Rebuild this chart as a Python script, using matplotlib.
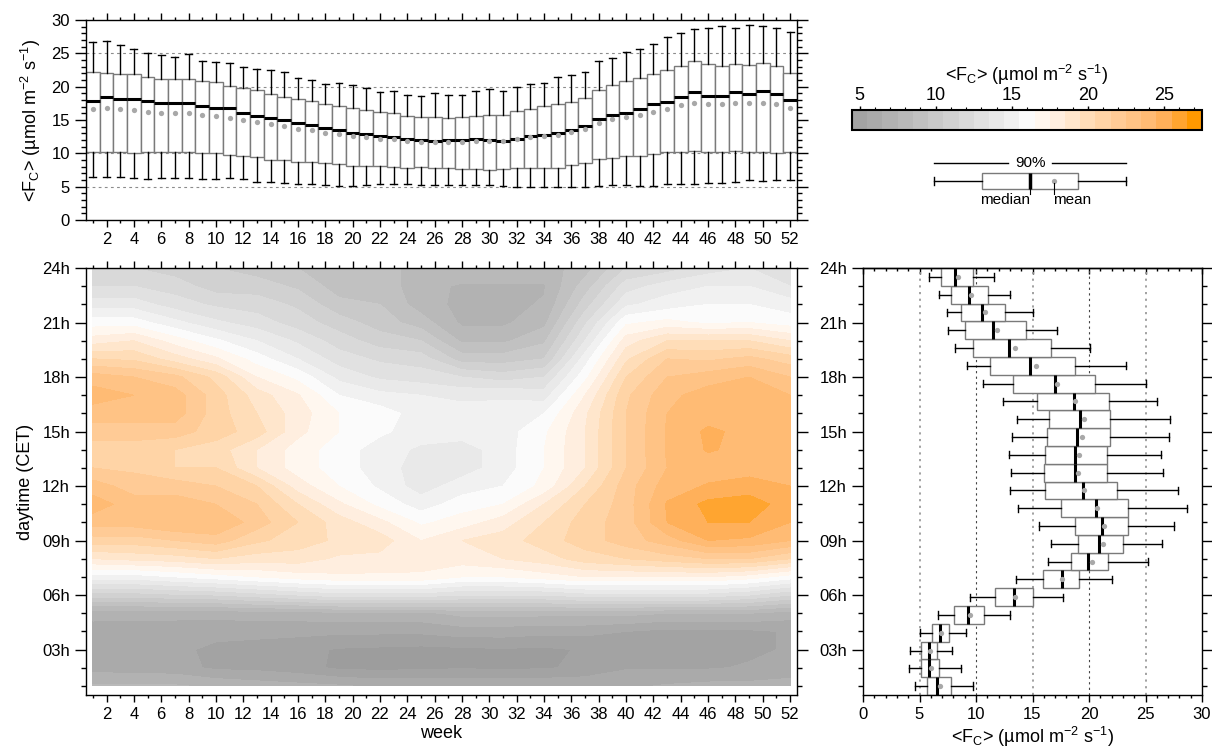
import numpy as np
import matplotlib
matplotlib.use('Agg')
import matplotlib.pyplot as plt
from matplotlib.colors import ListedColormap, BoundaryNorm
from matplotlib.cm import ScalarMappable
from matplotlib.ticker import FixedLocator, MultipleLocator
from matplotlib.patches import Rectangle

plt.rcParams['font.family'] = ['Liberation Sans', 'DejaVu Sans']
plt.rcParams['mathtext.fontset'] = 'custom'
plt.rcParams['mathtext.rm'] = 'Liberation Sans'
plt.rcParams['mathtext.it'] = 'Liberation Sans:italic'
plt.rcParams['mathtext.bf'] = 'Liberation Sans:bold'

# ---------------- weekly statistics (top panel) ----------------
weeks = list(range(1, 53))
week_whi = [26.65, 26.9, 26.2, 25.7, 25.0, 24.7, 24.5, 24.85, 23.9, 23.75, 23.5, 22.9, 22.6,
            22.45, 22.15, 21.25, 20.95, 20.35, 20.5, 20.2, 19.75, 19.15, 19.3, 18.8, 18.65, 19.0,
            18.8, 18.8, 19.4, 19.6, 19.4, 20.0, 20.35, 20.6, 21.4, 21.8, 22.15, 23.9, 24.35, 25.25,
            25.6, 26.35, 27.4, 28.0, 28.6, 28.75, 29.05, 28.75, 29.2, 29.05, 28.75, 28.15]
week_q3 = [22.15, 22.0, 21.9, 21.9, 21.5, 21.2, 21.1, 21.1, 20.9, 20.75, 20.15, 19.8, 19.5,
           18.9, 18.5, 18.2, 17.9, 17.4, 17.15, 16.85, 16.5, 16.25, 16.0, 15.65, 15.4, 15.4,
           15.25, 15.4, 15.65, 15.8, 15.8, 16.3, 16.7, 17.1, 17.45, 17.75, 18.35, 19.5, 20.25, 20.9,
           21.25, 21.9, 22.45, 23.05, 23.8, 23.4, 23.05, 23.4, 23.2, 23.5, 23.05, 22.05]
week_med = [17.9, 18.5, 18.2, 18.2, 17.9, 17.6, 17.6, 17.6, 17.15, 16.85, 16.85, 16.1, 15.65,
            15.35, 15.0, 14.6, 14.25, 13.85, 13.5, 13.1, 12.9, 12.6, 12.5, 12.2, 12.0, 11.85,
            12.0, 12.0, 12.15, 12.0, 11.85, 12.2, 12.6, 12.75, 13.1, 13.5, 14.1, 15.1, 15.8, 16.1,
            16.7, 17.45, 17.75, 18.5, 19.15, 18.65, 18.65, 19.15, 18.95, 19.3, 18.95, 18.05]
week_mean = [16.65, 16.8, 16.65, 16.5, 16.25, 16.0, 16.1, 16.1, 15.8, 15.65, 15.35, 15.0, 14.65,
             14.35, 14.1, 13.7, 13.5, 13.1, 12.9, 12.65, 12.5, 12.2, 12.15, 11.9, 11.7, 11.75,
             11.75, 11.75, 11.9, 11.9, 11.9, 12.15, 12.4, 12.6, 12.8, 13.25, 13.65, 14.5, 15.1, 15.45,
             15.7, 16.2, 16.7, 17.2, 17.55, 17.4, 17.35, 17.5, 17.5, 17.55, 17.35, 16.75]
week_q1 = [10.15, 10.15, 10.15, 10.1, 10.15, 10.15, 10.25, 10.15, 10.0, 10.0, 9.7, 9.6, 9.5,
           8.95, 8.95, 8.75, 8.65, 8.5, 8.4, 8.15, 8.05, 8.05, 7.9, 7.8, 7.9, 7.75,
           7.75, 7.65, 7.65, 7.5, 7.65, 7.75, 7.75, 7.75, 7.85, 8.25, 8.5, 9.1, 9.25, 9.6,
           9.6, 9.9, 10.15, 10.25, 10.35, 10.15, 10.15, 10.35, 10.25, 10.15, 10.05, 10.15]
week_wlo = [6.4, 6.4, 6.4, 6.25, 6.1, 6.25, 6.25, 6.25, 6.1, 6.1, 6.25, 6.1, 5.65,
            5.65, 5.5, 5.35, 5.35, 5.2, 5.05, 5.05, 5.2, 5.35, 5.35, 5.35, 5.25, 5.25,
            5.25, 5.25, 5.25, 5.25, 5.1, 4.9, 5.0, 5.0, 5.0, 5.0, 5.0, 5.1, 5.25, 5.25,
            5.1, 5.1, 5.4, 5.4, 5.4, 5.5, 5.5, 5.65, 6.0, 5.9, 6.0, 6.0]

# ---------------- hourly statistics (right panel), hours 1..24 ----------------
hours = list(range(1, 25))
hour_wlo = [4.63, 4.07, 4.16, 5.04, 6.67, 9.44, 13.5, 16.4, 16.64, 15.6, 13.75, 13.0,
            13.07, 12.95, 13.2, 13.6, 12.42, 10.65, 9.23, 8.17, 7.55, 7.46, 6.76, 5.87]
hour_q1 = [5.69, 5.16, 5.16, 6.08, 8.02, 11.68, 15.96, 18.38, 19.06, 18.79, 17.49, 16.14,
           15.99, 16.14, 16.25, 16.49, 15.4, 13.24, 11.24, 9.76, 9.06, 8.70, 7.76, 6.87]
hour_med = [6.52, 5.84, 5.84, 6.81, 9.26, 13.33, 17.61, 19.88, 20.9, 21.12, 20.6, 19.44,
            18.73, 18.76, 18.9, 19.2, 18.67, 17.0, 14.78, 12.9, 11.47, 10.5, 9.38, 8.14]
hour_mean = [6.81, 6.02, 5.9, 6.93, 9.47, 13.45, 17.61, 20.24, 21.2, 21.3, 20.7, 19.59,
             19.03, 19.08, 19.4, 19.53, 18.76, 17.14, 15.28, 13.42, 11.86, 10.77, 9.53, 8.41]
hour_q3 = [7.76, 6.76, 6.58, 7.61, 10.68, 15.07, 19.14, 21.7, 23.0, 23.42, 23.48, 22.5,
           21.56, 21.6, 21.9, 21.86, 21.77, 20.56, 18.79, 16.67, 14.4, 12.6, 11.06, 9.76]
hour_whi = [9.76, 8.64, 7.85, 9.12, 12.98, 17.67, 22.0, 25.2, 26.43, 27.55, 28.7, 27.85,
            26.58, 26.34, 27.1, 27.2, 26.05, 25.0, 23.3, 20.1, 17.2, 15.07, 13.0, 11.59]

# ---------------- week x hour field (heat map), hours 1..24 ----------------
grid_weeks = [1, 4, 7, 10, 13, 16, 19, 22, 25, 28, 31, 34, 37, 40, 43, 46, 49, 52]
grid_hours = list(range(1, 25))
flux_wk01 = [7.6, 6.1, 6.0, 6.1, 6.8, 11.0, 15.0, 18.5, 21.0, 23.0, 24.0, 23.0,
             21.5, 21.0, 22.0, 23.0, 24.0, 23.0, 20.5, 18.0, 16.0, 14.0, 12.5, 12.0]
flux_wk04 = [7.6, 6.0, 6.1, 6.0, 6.8, 11.0, 15.0, 18.8, 21.0, 23.0, 23.0, 22.0,
             21.3, 21.0, 22.0, 23.0, 23.5, 22.5, 20.3, 18.5, 16.0, 14.0, 12.5, 11.5]
flux_wk07 = [7.6, 5.9, 5.8, 6.0, 6.8, 11.3, 15.5, 19.0, 21.5, 23.5, 23.0, 22.0,
             20.5, 20.5, 22.0, 23.0, 23.0, 21.8, 19.0, 17.0, 14.8, 13.0, 12.0, 11.0]
flux_wk10 = [7.3, 5.3, 5.2, 5.9, 6.8, 11.5, 16.0, 19.5, 22.0, 23.5, 22.5, 21.5,
             20.5, 20.0, 21.0, 21.0, 21.0, 20.2, 17.7, 15.7, 13.7, 12.3, 11.0, 10.5]
flux_wk13 = [7.0, 5.2, 5.1, 5.8, 7.0, 12.0, 16.5, 19.0, 20.7, 22.0, 21.5, 20.5,
             18.5, 18.5, 20.0, 19.5, 19.0, 17.5, 16.0, 14.5, 13.0, 12.0, 11.0, 10.0]
flux_wk16 = [6.8, 4.9, 4.8, 5.8, 7.0, 12.5, 17.0, 19.0, 20.0, 20.5, 19.5, 18.0,
             17.0, 17.0, 17.8, 18.0, 17.6, 16.2, 14.5, 13.3, 12.0, 11.3, 10.3, 9.5]
flux_wk19 = [6.6, 4.3, 4.4, 5.7, 7.2, 13.0, 17.3, 18.3, 19.3, 19.0, 17.7, 16.5,
             16.0, 16.0, 16.5, 16.5, 15.5, 14.2, 13.0, 12.0, 11.0, 9.8, 9.0, 9.0]
flux_wk22 = [6.3, 4.2, 4.3, 5.7, 7.2, 13.0, 17.3, 18.2, 19.0, 17.8, 16.2, 15.3,
             15.0, 15.0, 15.7, 16.0, 14.8, 13.3, 12.3, 11.0, 10.0, 9.5, 9.0, 9.0]
flux_wk25 = [6.3, 4.3, 4.2, 5.7, 7.2, 13.0, 17.3, 18.0, 17.5, 16.3, 15.0, 14.0,
             14.0, 14.3, 15.0, 15.0, 14.5, 13.0, 12.0, 10.5, 9.0, 8.0, 8.0, 8.0]
flux_wk28 = [6.3, 4.4, 4.3, 6.0, 7.8, 12.5, 16.5, 18.0, 18.5, 17.0, 16.0, 15.0,
             14.0, 14.0, 15.0, 15.0, 14.2, 12.5, 10.0, 8.3, 7.3, 7.2, 7.3, 8.5]
flux_wk31 = [6.3, 4.3, 4.4, 6.0, 7.8, 12.5, 16.5, 18.5, 19.0, 18.0, 16.5, 15.5,
             15.0, 15.0, 15.0, 15.0, 14.3, 12.0, 10.0, 8.3, 7.3, 7.2, 7.3, 8.5]
flux_wk34 = [6.3, 4.4, 4.3, 5.8, 7.8, 12.5, 17.0, 19.0, 20.0, 19.5, 18.5, 16.8,
             16.5, 16.5, 16.3, 15.5, 14.0, 12.5, 10.5, 9.3, 8.2, 7.6, 7.4, 8.0]
flux_wk37 = [6.3, 4.7, 4.6, 5.8, 7.8, 13.0, 17.5, 20.0, 21.0, 21.0, 20.5, 19.5,
             18.5, 18.5, 18.5, 18.3, 17.5, 16.2, 15.0, 13.5, 12.3, 11.0, 10.0, 9.0]
flux_wk40 = [6.3, 5.4, 5.3, 5.5, 7.8, 13.0, 17.5, 20.5, 22.0, 22.0, 22.0, 22.0,
             21.5, 21.5, 21.5, 21.5, 21.3, 20.5, 19.3, 18.0, 16.3, 14.3, 13.0, 11.5]
flux_wk43 = [6.6, 5.4, 5.3, 5.2, 7.5, 13.0, 17.5, 21.0, 23.0, 24.5, 24.6, 24.0,
             23.5, 23.6, 23.6, 23.5, 23.2, 22.5, 21.5, 19.5, 16.8, 15.0, 14.0, 12.0]
flux_wk46 = [6.8, 5.4, 5.3, 5.2, 7.5, 13.0, 17.5, 21.5, 24.5, 25.5, 25.8, 24.6,
             24.0, 24.6, 24.7, 24.0, 24.0, 23.0, 21.3, 19.5, 16.3, 15.5, 14.5, 13.0]
flux_wk49 = [6.8, 5.6, 5.3, 5.3, 7.5, 12.5, 17.0, 21.5, 24.3, 25.5, 26.0, 25.0,
             24.0, 24.2, 24.2, 24.2, 24.2, 23.5, 21.8, 19.5, 16.5, 15.5, 14.5, 13.5]
flux_wk52 = [7.0, 5.8, 5.6, 5.6, 7.0, 11.5, 16.0, 20.5, 23.5, 24.5, 25.0, 24.5,
             23.5, 24.0, 24.0, 24.0, 23.5, 22.5, 21.0, 18.5, 16.0, 15.0, 13.5, 12.5]

# colour scale
levels = np.arange(4.5, 28.0, 1.0)
level_colors = ['#a3a3a3', '#aaaaaa', '#b2b2b2', '#b9b9b9', '#c1c1c1', '#c9c9c9',
                '#d1d1d1', '#d9d9d9', '#e1e1e1', '#e9e9e9', '#f1f1f1', '#fbfbfb',
                '#fff7ef', '#ffeedf', '#ffe6cc', '#ffddb8', '#ffd4a6', '#ffcb96',
                '#ffc385', '#ffbb74', '#ffb05a', '#ffa530', '#ff9900']
cbar_ticks = [5, 10, 15, 20, 25]

hour_ticks = [3, 6, 9, 12, 15, 18, 21, 24]
hour_labels = ['03h', '06h', '09h', '12h', '15h', '18h', '21h', '24h']

flux_label = '<F$_\\mathregular{C}$> (µmol m$^\\mathregular{-2}$ s$^\\mathregular{-1}$)'

# ---------------- figure ----------------
W, H = 1212, 748
fig = plt.figure(figsize=(W / 100, H / 100), dpi=100)


def pax(x0, y0, x1, y1):
    return fig.add_axes([x0 / W, 1 - y1 / H, (x1 - x0) / W, (y1 - y0) / H])


ax_top = pax(86, 20, 797, 220)
ax_hm = pax(86, 268, 797, 695)
ax_r = pax(863, 268, 1202, 695)
cax = pax(852, 110, 1202, 130)
ax_leg = pax(852, 150, 1202, 215)

FS = 12
box_edge = '#7a7a7a'
mean_col = '#a8a8a8'


def tick_style(ax, xmaj=5, xmin=2.5, ymaj=8, ymin=3.5):
    for s in ax.spines.values():
        s.set_linewidth(1.0)
    ax.tick_params(axis='x', which='major', length=xmaj, width=1, direction='out', labelsize=FS)
    ax.tick_params(axis='x', which='minor', length=xmin, width=1, direction='out')
    ax.tick_params(axis='y', which='major', length=ymaj, width=1, direction='out', labelsize=FS)
    ax.tick_params(axis='y', which='minor', length=ymin, width=1, direction='out')


# ---- top panel: weekly boxes ----
stats_top = [dict(med=m, q1=a, q3=b, whislo=lo, whishi=hi, mean=mn, fliers=[])
             for m, a, b, lo, hi, mn in zip(week_med, week_q1, week_q3, week_wlo, week_whi, week_mean)]
for g in [5, 10, 15, 20, 25]:
    ax_top.axhline(g, color='#8c8c8c', lw=0.8, ls=(0, (2.5, 3)), zorder=0.5)
ax_top.bxp(stats_top, positions=weeks, widths=1.0, capwidths=0.5, showmeans=True,
           patch_artist=True, showfliers=False, manage_ticks=False,
           boxprops=dict(facecolor='white', edgecolor=box_edge, lw=1.0),
           medianprops=dict(color='black', lw=2.2, solid_capstyle='butt'),
           whiskerprops=dict(color='black', lw=1.0),
           capprops=dict(color='black', lw=1.0),
           meanprops=dict(marker='o', markersize=3.8, markerfacecolor=mean_col, markeredgecolor='none'))
ax_top.set_xlim(0.5, 52.5)
ax_top.set_ylim(0, 30)
ax_top.xaxis.set_major_locator(FixedLocator(list(range(2, 53, 2))))
ax_top.xaxis.set_minor_locator(FixedLocator(list(range(1, 53, 2))))
ax_top.yaxis.set_major_locator(MultipleLocator(5))
ax_top.yaxis.set_minor_locator(MultipleLocator(1))
tick_style(ax_top)
ax_top.tick_params(which='both', top=True, right=True, labeltop=False, labelright=False)
ax_top.set_ylabel(flux_label, fontsize=FS + 1, labelpad=6)

# ---- heat map ----
cmap = ListedColormap(level_colors)
cmap.set_under('#9d9d9d')
cmap.set_over('#ff9000')
norm = BoundaryNorm(levels, cmap.N)
Z = np.array([flux_wk01, flux_wk04, flux_wk07, flux_wk10, flux_wk13, flux_wk16,
              flux_wk19, flux_wk22, flux_wk25, flux_wk28, flux_wk31, flux_wk34,
              flux_wk37, flux_wk40, flux_wk43, flux_wk46, flux_wk49, flux_wk52]).T
ax_hm.contourf(grid_weeks, grid_hours, Z, levels=levels, cmap=cmap, norm=norm, extend='both')
ax_hm.set_xlim(0.5, 52.5)
ax_hm.set_ylim(0.5, 24)
ax_hm.xaxis.set_major_locator(FixedLocator(list(range(2, 53, 2))))
ax_hm.xaxis.set_minor_locator(FixedLocator(list(range(1, 53, 2))))
ax_hm.yaxis.set_major_locator(FixedLocator(hour_ticks))
ax_hm.yaxis.set_minor_locator(FixedLocator(list(range(1, 25))))
ax_hm.set_yticklabels(hour_labels)
tick_style(ax_hm)
ax_hm.tick_params(which='both', top=True, right=True, labeltop=False, labelright=False)
ax_hm.set_xlabel('week', fontsize=FS + 1, labelpad=2)
ax_hm.set_ylabel('daytime (CET)', fontsize=FS + 1, labelpad=6)

# ---- right panel: hourly boxes ----
edges = np.linspace(0.5, 24, len(hours) + 1)
pos = (edges[:-1] + edges[1:]) / 2
stats_r = [dict(med=m, q1=a, q3=b, whislo=lo, whishi=hi, mean=mn, fliers=[])
           for m, a, b, lo, hi, mn in zip(hour_med, hour_q1, hour_q3, hour_wlo, hour_whi, hour_mean)]
for g in [5, 10, 15, 20, 25]:
    if g in (10, 20):
        ax_r.axvline(g, color='#444444', lw=0.8, ls=(0, (2, 3)), zorder=0.5)
    else:
        ax_r.axvline(g, color='#9a9a9a', lw=1.3, ls=(0, (1.2, 2.5)), zorder=0.5)
ax_r.bxp(stats_r, positions=pos, widths=edges[1] - edges[0], capwidths=0.4, showmeans=True,
         patch_artist=True, showfliers=False, manage_ticks=False, orientation='horizontal',
         boxprops=dict(facecolor='white', edgecolor=box_edge, lw=1.0),
         medianprops=dict(color='black', lw=2.2, solid_capstyle='butt'),
         whiskerprops=dict(color='black', lw=1.0),
         capprops=dict(color='black', lw=1.0),
         meanprops=dict(marker='o', markersize=3.8, markerfacecolor=mean_col, markeredgecolor='none'))
ax_r.set_xlim(0, 30)
ax_r.set_ylim(0.5, 24)
ax_r.xaxis.set_major_locator(MultipleLocator(5))
ax_r.xaxis.set_minor_locator(MultipleLocator(1))
ax_r.yaxis.set_major_locator(FixedLocator(hour_ticks))
ax_r.yaxis.set_minor_locator(FixedLocator(list(range(1, 25))))
ax_r.set_yticklabels(hour_labels)
tick_style(ax_r)
ax_r.tick_params(which='both', right=True, labelright=False)
sec = ax_r.secondary_xaxis('top')
sec.xaxis.set_major_locator(MultipleLocator(5))
sec.xaxis.set_minor_locator(MultipleLocator(1))
sec.tick_params(which='major', direction='in', length=4, width=1, labeltop=False)
sec.tick_params(which='minor', direction='in', length=2.5, width=1)
sec.spines['top'].set_linewidth(1.0)
ax_r.set_xlabel(flux_label, fontsize=FS + 1, labelpad=2)

# ---- colour bar ----
sm = ScalarMappable(norm=norm, cmap=ListedColormap(level_colors))
cb = fig.colorbar(sm, cax=cax, orientation='horizontal', ticks=cbar_ticks)
cb.outline.set_linewidth(1.5)
cax.xaxis.set_ticks_position('top')
cax.xaxis.set_label_position('top')
cax.xaxis.set_minor_locator(FixedLocator(list(range(5, 28))))
cax.tick_params(which='major', direction='out', length=3, width=1, labelsize=FS + 1, pad=1)
cax.tick_params(which='minor', direction='out', length=2, width=0.8)
fig.text(1027 / W, 1 - 75 / H, flux_label, ha='center', va='center', fontsize=FS + 1)

# ---- box legend ----
ax_leg.set_xlim(852, 1202)
ax_leg.set_ylim(215, 150)
ax_leg.axis('off')
ax_leg.plot([934, 1008], [163, 163], color='black', lw=1)
ax_leg.plot([1052, 1126], [163, 163], color='black', lw=1)
ax_leg.text(1030, 163, '90%', ha='center', va='center', fontsize=FS - 1)
ax_leg.plot([934, 982], [181, 181], color='black', lw=1)
ax_leg.plot([1078, 1126], [181, 181], color='black', lw=1)
ax_leg.plot([934, 934], [177, 185], color='black', lw=1)
ax_leg.plot([1126, 1126], [177, 185], color='black', lw=1)
ax_leg.add_patch(Rectangle((982, 173), 96, 16, facecolor='white', edgecolor=box_edge, lw=1))
ax_leg.plot([1030, 1030], [173, 189], color='black', lw=2.5, solid_capstyle='butt')
ax_leg.plot([1030, 1030], [189, 194], color='black', lw=0.8)
ax_leg.plot([1054], [181], 'o', color=mean_col, markersize=3.8, markeredgecolor='none')
ax_leg.plot([1054, 1054], [183, 194], color='black', lw=0.8)
ax_leg.text(1005, 200, 'median', ha='center', va='center', fontsize=FS - 1)
ax_leg.text(1072, 200, 'mean', ha='center', va='center', fontsize=FS - 1)

fig.savefig('out.png', dpi=100)
